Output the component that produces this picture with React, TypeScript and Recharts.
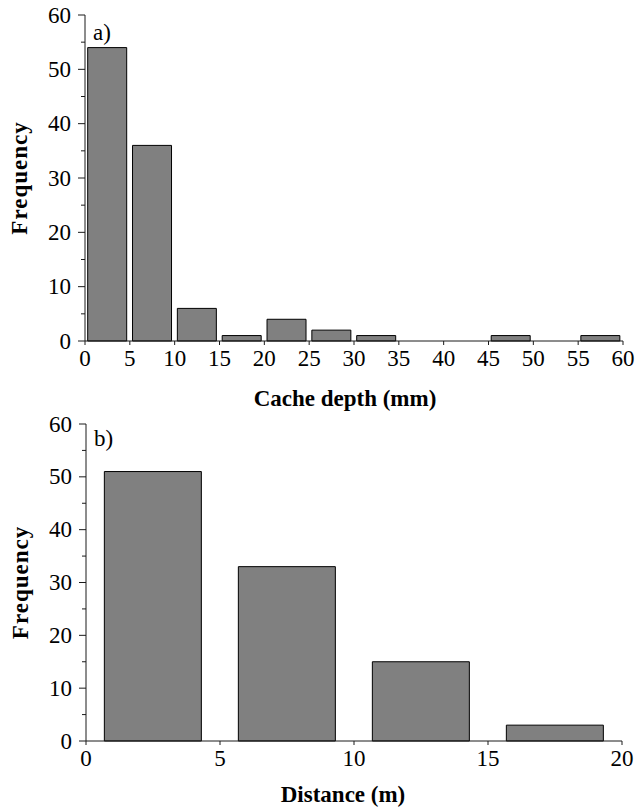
import React from 'react';
import { BarChart, Bar, XAxis, YAxis, Label } from 'recharts';

// Panel a) cache depth histogram
const depthBins = ['0-5', '5-10', '10-15', '15-20', '20-25', '25-30', '30-35', '35-40', '40-45', '45-50', '50-55', '55-60'];
const depthMids = [2.5, 7.5, 12.5, 17.5, 22.5, 27.5, 32.5, 37.5, 42.5, 47.5, 52.5, 57.5];
const depthCounts = [54, 36, 6, 1, 4, 2, 1, 0, 0, 1, 0, 1];
const depthTicks = [0, 5, 10, 15, 20, 25, 30, 35, 40, 45, 50, 55, 60];

// Panel b) distance histogram
const distBins = ['0-5', '5-10', '10-15', '15-20'];
const distMids = [2.5, 7.5, 12.5, 17.5];
const distCounts = [51, 33, 15, 3];
const distTicks = [0, 5, 10, 15, 20];

const freqTicks = [0, 5, 10, 15, 20, 25, 30, 35, 40, 45, 50, 55, 60];
const freqLabelStep = 10;

const depthData = depthBins.map((bin, i) => ({ bin, mid: depthMids[i], count: depthCounts[i] }));
const distData = distBins.map((bin, i) => ({ bin, mid: distMids[i], count: distCounts[i] }));

const FONT = '"Liberation Serif", "Times New Roman", Times, serif';
const AXIS = '#1a1a1a';

const YTick = (props: any) => {
  const { x, y, payload } = props;
  const axisX = x + 14;
  const major = payload.value % freqLabelStep === 0;
  return (
    <g>
      <line x1={axisX} x2={axisX - (major ? 7 : 4)} y1={y} y2={y} stroke={AXIS} strokeWidth={1} />
      {major && (
        <text x={x} y={y} textAnchor="end" dominantBaseline="central" style={{ fontFamily: FONT }} fontSize={23} fill="#000">
          {payload.value}
        </text>
      )}
    </g>
  );
};

const XTick = (props: any) => {
  const { x, y, payload } = props;
  return (
    <text x={x} y={y} textAnchor="middle" dominantBaseline="hanging" dy={-2} style={{ fontFamily: FONT }} fontSize={23} fill="#000">
      {payload.value}
    </text>
  );
};

const yLabel = (text: string) => (props: any) => {
  const vb = props.viewBox || {};
  const cx = vb.x + vb.width - 66;
  const cy = vb.y + vb.height / 2;
  return (
    <text
      x={cx}
      y={cy}
      transform={`rotate(-90 ${cx} ${cy})`}
      textAnchor="middle"
      dominantBaseline="central"
      style={{ fontFamily: FONT, letterSpacing: 1 }}
      fontWeight="bold"
      fontSize={23}
      fill="#000"
    >
      {text}
    </text>
  );
};

const panelLabel = (text: string, dy: number) => (props: any) => {
  const vb = props.viewBox || {};
  return (
    <text
      x={vb.x + vb.width + 8}
      y={vb.y + dy}
      textAnchor="start"
      dominantBaseline="central"
      style={{ fontFamily: FONT }}
      fontSize={23}
      fill="#000"
    >
      {text}
    </text>
  );
};

type PanelProps = {
  data: any[];
  ticks: number[];
  maxX: number;
  panel: string;
  height: number;
  margin: any;
  gap: string;
  panelDy: number;
};

const Panel = ({ data, ticks, maxX, panel, height, margin, gap, panelDy }: PanelProps) => (
  <BarChart width={635} height={height} data={data} margin={margin} barCategoryGap={gap}>
    <XAxis
      xAxisId="num"
      dataKey="mid"
      type="number"
      domain={[0, maxX]}
      ticks={ticks}
      interval={0}
      height={60}
      stroke={AXIS}
      tickSize={4}
      tickMargin={7}
      tick={<XTick />}
      tickLine={{ stroke: AXIS }}
      axisLine={{ stroke: AXIS }}
    />
    <XAxis xAxisId="cat" dataKey="bin" type="category" hide height={0} />
    <YAxis
      domain={[0, 60]}
      ticks={freqTicks}
      interval={0}
      width={70}
      tickSize={0}
      tickMargin={14}
      tickLine={false}
      tick={<YTick />}
      axisLine={{ stroke: AXIS }}
    >
      <Label content={yLabel('Frequency')} />
      <Label content={panelLabel(panel, panelDy)} />
    </YAxis>
    <Bar xAxisId="cat" dataKey="count" fill="#808080" stroke="#000" strokeWidth={1} isAnimationActive={false} />
  </BarChart>
);

const titleStyle = (left: number, top: number): React.CSSProperties => ({
  position: 'absolute',
  left,
  top,
  transform: 'translate(-50%, -50%)',
  fontFamily: FONT,
  fontWeight: 'bold',
  fontSize: 23,
  lineHeight: 1,
  whiteSpace: 'nowrap',
  color: '#000',
});

export default function App() {
  return (
    <div style={{ position: 'absolute', left: 0, top: 0, width: 635, height: 809, background: '#fff' }}>
      <div style={{ position: 'absolute', left: 0, top: 0 }}>
        <Panel
          data={depthData}
          ticks={depthTicks}
          maxX={60}
          panel="a)"
          height={410}
          margin={{ top: 15, right: 12, bottom: 9, left: 15 }}
          gap="6%"
          panelDy={17}
        />
      </div>
      <div style={{ position: 'absolute', left: 0, top: 410 }}>
        <Panel
          data={distData}
          ticks={distTicks}
          maxX={20}
          panel="b)"
          height={399}
          margin={{ top: 14, right: 13, bottom: 8, left: 16 }}
          gap="13.7%"
          panelDy={14}
        />
      </div>
      <div style={titleStyle(345, 398)}>Cache depth (mm)</div>
      <div style={titleStyle(343, 794)}>Distance (m)</div>
    </div>
  );
}
